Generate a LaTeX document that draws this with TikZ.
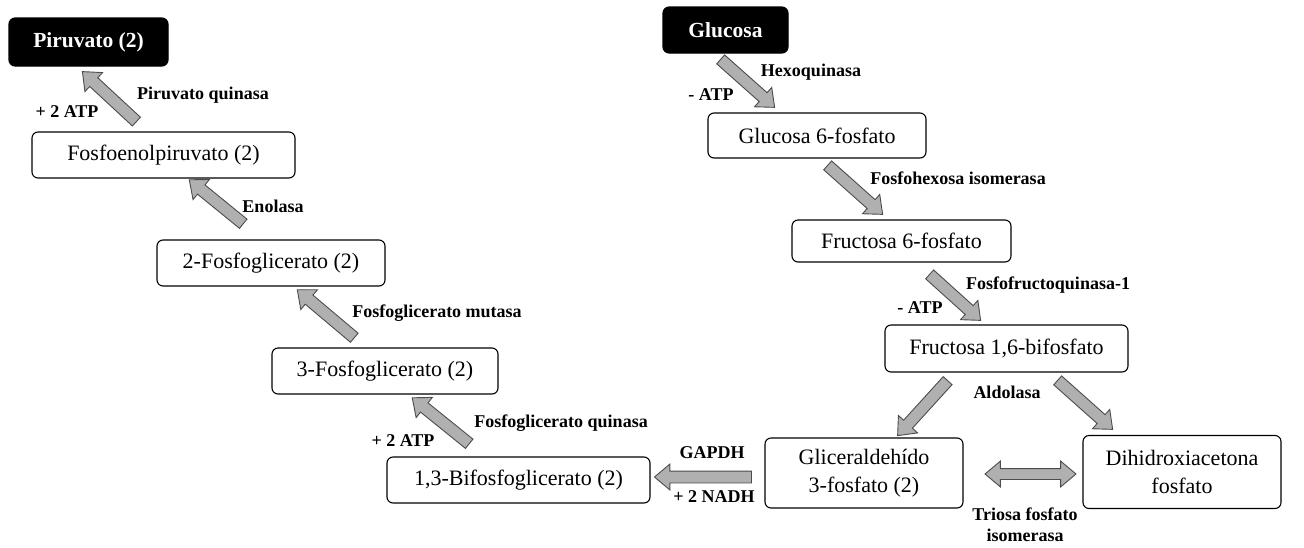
\documentclass[tikz,border=0pt]{standalone}
\usepackage{fontspec}
\IfFontExistsTF{LiberationSerif-Regular.ttf}
  {\setmainfont{LiberationSerif}[Extension=.ttf, UprightFont=*-Regular, BoldFont=*-Bold, ItalicFont=*-Italic, BoldItalicFont=*-BoldItalic]}
  {\setmainfont{Liberation Serif}}
\usetikzlibrary{shapes.arrows,calc}
\tikzset{
  box/.style={draw, rounded corners=6pt, line width=1.1pt, inner sep=0pt,
    align=center, font=\fontsize{22}{28.5}\selectfont},
  blackbox/.style={box, fill=black, text=white, font=\bfseries\fontsize{21.5}{24}\selectfont},
  lab/.style={font=\bfseries\fontsize{18}{21}\selectfont, inner sep=0pt, align=center},
  blockarr/.style={single arrow, draw=black!70, fill=black!31, line width=0.9pt,
    inner sep=5.5pt, minimum width=0pt, single arrow head extend=7pt,
    single arrow tip angle=80, single arrow head indent=0pt},
  dblarr/.style={double arrow, draw=black!70, fill=black!31, line width=0.9pt,
    inner sep=5pt, minimum width=0pt, double arrow head extend=7.5pt,
    double arrow tip angle=80, double arrow head indent=0pt}
}
\newcommand\barrow[3][blockarr]{%
  \path let \p1=($(#3)-(#2)$), \n1={atan2(\y1,\x1)}, \n2={veclen(\x1,\y1)} in
    node[#1, rotate=\n1, minimum height=\n2] at ($(#2)!0.5!(#3)$) {};}
\begin{document}
\begin{tikzpicture}[x=1pt,y=-1pt]
\useasboundingbox (0,0) rectangle (1304,547);
% boxes
\node[blackbox, minimum width=159pt, minimum height=48pt] (piru) at (88.5,42) {Piruvato (2)};
\node[box, minimum width=263pt, minimum height=46pt] (pep) at (163.5,155) {Fosfoenolpiruvato (2)};
\node[box, minimum width=228pt, minimum height=46pt] (pg2) at (271,263) {2-Fosfoglicerato (2)};
\node[box, minimum width=226pt, minimum height=46pt] (pg3) at (385,371) {3-Fosfoglicerato (2)};
\node[box, minimum width=263pt, minimum height=46pt] (bpg) at (518.5,480) {1,3-Bifosfoglicerato (2)};
\node[box, minimum width=198pt, minimum height=70pt] (gap) at (864,473) {Gliceraldehído\\3-fosfato (2)};
\node[box, minimum width=198pt, minimum height=73pt] (dhap) at (1182,472) {Dihidroxiacetona\\fosfato};
\node[box, minimum width=243pt, minimum height=47pt] (f16) at (1006.5,348.5) {Fructosa 1,6-bifosfato};
\node[box, minimum width=219pt, minimum height=42pt] (f6p) at (901.5,241) {Fructosa 6-fosfato};
\node[box, minimum width=218pt, minimum height=45pt] (g6p) at (817,135.5) {Glucosa 6-fosfato};
\node[blackbox, minimum width=125pt, minimum height=46pt] (glu) at (725.5,30) {Glucosa};
% arrow end points
\coordinate (a1t) at (139,124); \coordinate (a1h) at (85,74);
\coordinate (a2t) at (246,226); \coordinate (a2h) at (192,182);
\coordinate (a3t) at (357,340); \coordinate (a3h) at (300,292);
\coordinate (a4t) at (472,446); \coordinate (a4h) at (415,400);
\coordinate (a5t) at (755,477); \coordinate (a5h) at (658,477);
\coordinate (a6t) at (718,57);  \coordinate (a6h) at (772,105);
\coordinate (a7t) at (825,163); \coordinate (a7h) at (880,212);
\coordinate (a8t) at (927,272); \coordinate (a8h) at (978,318);
\coordinate (a9t) at (950,378); \coordinate (a9h) at (900,433);
\coordinate (a10t) at (1055,378); \coordinate (a10h) at (1110,427);
\coordinate (a11t) at (985,474); \coordinate (a11h) at (1076,474);
\barrow{a1t}{a1h}
\barrow{a2t}{a2h}
\barrow{a3t}{a3h}
\barrow{a4t}{a4h}
\barrow{a5t}{a5h}
\barrow{a6t}{a6h}
\barrow{a7t}{a7h}
\barrow{a8t}{a8h}
\barrow{a9t}{a9h}
\barrow{a10t}{a10h}
\barrow[dblarr]{a11t}{a11h}
% labels
\node[lab] (l1) at (203,95) {Piruvato quinasa};
\node[lab] (l1b) at (67,112) {+ 2 ATP};
\node[lab] (l2) at (273,206) {Enolasa};
\node[lab] (l3) at (437,313) {Fosfoglicerato mutasa};
\node[lab] (l4) at (561,423) {Fosfoglicerato quinasa};
\node[lab] (l4b) at (403,441) {+ 2 ATP};
\node[lab] (l5) at (712,453) {GAPDH};
\node[lab] (l5b) at (714,497) {+ 2 NADH};
\node[lab] (l6) at (811,72) {Hexoquinasa};
\node[lab] (l6b) at (711,95) {- ATP};
\node[lab] (l7) at (958,178) {Fosfohexosa isomerasa};
\node[lab] (l8) at (1048,285) {Fosfofructoquinasa-1};
\node[lab] (l8b) at (920,308) {- ATP};
\node[lab] (l9) at (1007,392) {Aldolasa};
\node[lab] (l10) at (1025,525) {Triosa fosfato\\isomerasa};
\end{tikzpicture}
\end{document}
